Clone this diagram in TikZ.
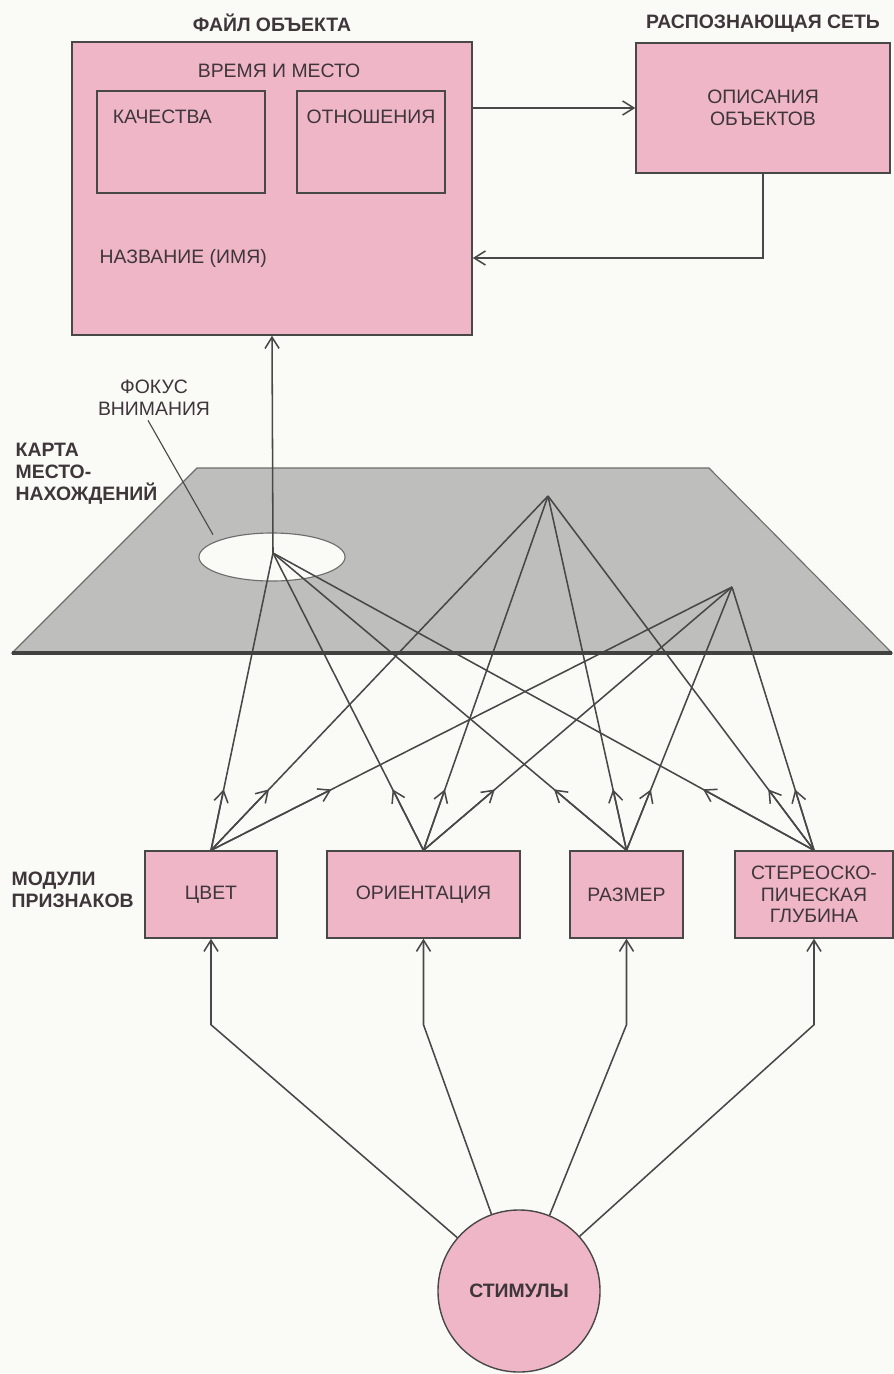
\documentclass[tikz,border=0pt]{standalone}
\usepackage{fontspec}
\setmainfont{Liberation Sans}
\usepackage{xcolor}
\usetikzlibrary{arrows.meta,positioning,calc,shapes.geometric}
\definecolor{paper}{RGB}{250,250,246}
\definecolor{rose}{RGB}{239,182,199}
\definecolor{slab}{RGB}{190,190,188}
\definecolor{ink}{RGB}{62,54,58}
\definecolor{linegrey}{RGB}{72,72,72}

\begin{document}
\begin{tikzpicture}[x=0.025cm, y=-0.025cm, >={Straight Barb[length=8pt,width=10pt]},
  box/.style={draw=linegrey, fill=rose, line width=1pt, inner sep=0pt, align=center, text=ink, font=\fontsize{13.8}{15.5}\selectfont},
  hdr/.style={text=ink, align=left, inner sep=1pt, font=\fontsize{13.8}{15.5}\selectfont\bfseries},
  txt/.style={text=ink, align=center, inner sep=1pt, font=\fontsize{13.8}{15.5}\selectfont},
  conn/.style={draw=linegrey, line width=1.1pt}]
  \useasboundingbox (0,0) rectangle (894,1374);
  \fill[paper] (0,0) rectangle (894,1374);
  % object file
  \node[box, minimum width=10cm, minimum height=7.325cm] (file) at (272,188.5) {};
  \node[hdr, above=0.2cm of file] {ФАЙЛ ОБЪЕКТА};
  \node[txt] (when) at (279,71) {ВРЕМЯ И МЕСТО};
  \node[box, minimum width=4.2cm, minimum height=2.55cm, label={[txt, anchor=north west, xshift=0.37cm, yshift=-0.45cm]north west:КАЧЕСТВА}] (qual) at (181,142) {};
  \node[box, minimum width=3.7cm, minimum height=2.55cm, label={[txt, anchor=north, yshift=-0.45cm]north:ОТНОШЕНИЯ}] (rel) at (371,142) {};
  \node[txt, anchor=west] (nm) at (98,258) {НАЗВАНИЕ (ИМЯ)};
  % recognition network
  \node[box, minimum width=6.35cm, minimum height=3.25cm] (net) at (763,108) {ОПИСАНИЯ\\ОБЪЕКТОВ};
  \node[hdr, above=0.2cm of net] {РАСПОЗНАЮЩАЯ СЕТЬ};
  \draw[conn, ->] (file.east |- net.west) -- (net.west);
  \draw[conn, ->] (net.south) |- (nm -| file.east);
  % location map
  \filldraw[fill=slab, draw=linegrey!80, line width=0.8pt] (197,468) -- (709,468) -- (892,653) -- (12,653) -- cycle;
  \node[draw=linegrey!80, fill=paper, ellipse, inner sep=0pt, minimum width=3.65cm, minimum height=1.2cm, line width=0.8pt] (ell) at (272,557) {};
  \coordinate (foc) at (273,553);
  \coordinate (pa) at (548,496);
  \coordinate (pb) at (732,587);
  \node[hdr, anchor=west] (map) at (14,474) {КАРТА\\МЕСТО-\\НАХОЖДЕНИЙ};
  \node[txt] (att) at (154,398) {ФОКУС\\ВНИМАНИЯ};
  \draw[conn, line width=0.8pt] ([shift={(-6,3)}]att.south) -- ([shift={(-7,-5)}]ell.north west);
  % feature modules
  \node[box, minimum width=3.3cm, minimum height=2.175cm] (col) at (211,894.5) {ЦВЕТ};
  \node[box, minimum width=4.825cm, minimum height=2.175cm] (ori) at (423.5,894.5) {ОРИЕНТАЦИЯ};
  \node[box, minimum width=2.825cm, minimum height=2.175cm] (siz) at (626.5,894.5) {РАЗМЕР};
  \node[box, minimum width=3.95cm, minimum height=2.175cm] (ste) at (814,894.5) {СТЕРЕОСКО-\\ПИЧЕСКАЯ\\ГЛУБИНА};
  \node[hdr, anchor=west] (mods) at (10,890) {МОДУЛИ\\ПРИЗНАКОВ};
  % links into the map
  \foreach \m in {col,ori,siz,ste}
    \foreach \t/\f in {foc/0.205,pa/0.172,pb/0.231}{
      \draw[conn] (\m.north) -- (\t);
      \draw[conn, ->] (\m.north) -- ($(\m.north)!\f!(\t)$);
    }
  \draw[line width=2.8pt, draw=linegrey!90!black] (12,653) -- (892,653);
  % attention to object file
  \draw[conn, ->] (foc) -- (file.south);
  % stimuli
  \node[box, ellipse, minimum size=4.05cm, font=\fontsize{13.8}{15.5}\selectfont\bfseries] (stim) at (519,1291) {СТИМУЛЫ};
  \foreach \m in {col,ori,siz,ste}
    \draw[conn, <-] (\m.south) -- ++(0,86) -- (stim);
\end{tikzpicture}
\end{document}
